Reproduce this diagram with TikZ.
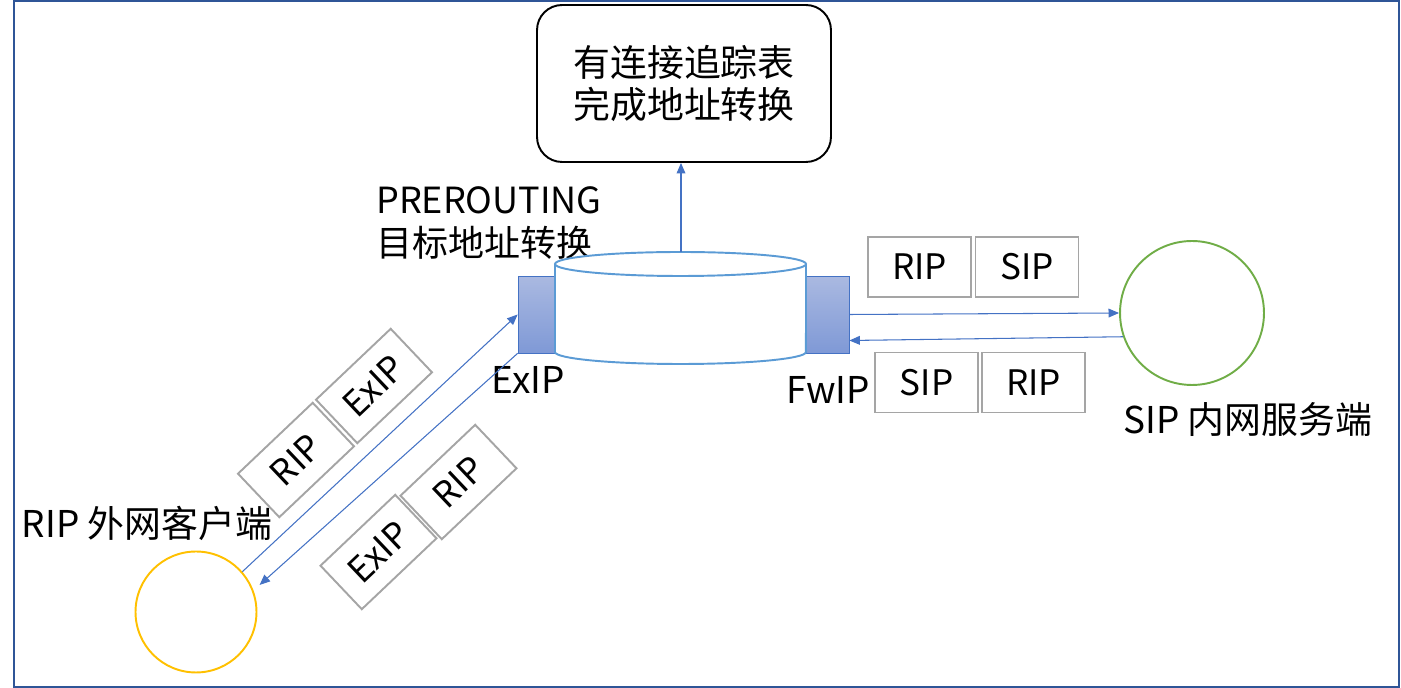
\documentclass[tikz,border=0pt]{standalone}
\usepackage{fontspec}
\setmainfont{Noto Sans CJK SC}
\usetikzlibrary{arrows.meta,calc}
\definecolor{framec}{HTML}{2F5597}
\definecolor{linkc}{HTML}{4472C4}
\definecolor{cylc}{HTML}{5B9BD5}
\definecolor{pktc}{HTML}{A5A5A5}
\definecolor{iftop}{HTML}{AAB9E1}
\definecolor{ifbot}{HTML}{7F99D6}
\definecolor{clientc}{HTML}{FFC000}
\definecolor{serverc}{HTML}{70AD47}
\begin{document}
\begin{tikzpicture}[x=0.02cm,y=-0.02cm,
    every node/.style={font=\fontsize{21}{24}\selectfont},
    pkt/.style={draw=pktc,line width=1.1pt,minimum width=2.06cm,minimum height=1.2cm,inner sep=0pt,font=\fontsize{20}{24}\selectfont},
    iface/.style={draw=linkc,top color=iftop,bottom color=ifbot,inner sep=0pt,minimum height=1.54cm},
    host/.style={circle,line width=1.1pt,inner sep=0pt},
    link/.style={draw=linkc,line width=0.6pt,-{Triangle[length=6pt,width=5pt]}},
    cyl/.style={draw=cylc,line width=1.1pt}]
    \useasboundingbox (0,0) rectangle (1401,688);
    \draw[framec,line width=1.3pt] (14,1) rectangle (1399,687);

    \node[draw,line width=1.1pt,rounded corners=0.5cm,minimum width=5.88cm,minimum height=3.14cm,align=center] (table) at (684,83.5) {有连接追踪表\\完成地址转换};
    \node[align=left,anchor=west,font=\fontsize{20.5}{24}\selectfont] (prer) at (370,223) {PREROUTING\\目标地址转换};

    \node[iface,minimum width=0.74cm] (exif) at (536.5,314.5) {};
    \node[iface,minimum width=0.86cm] (fwif) at (827.5,314.5) {};
    \draw[cyl,fill=white] (555,264) -- (555,352) arc[start angle=180,end angle=360,x radius=2.51cm,y radius=0.24cm] -- (806,264);
    \draw[cyl,fill=white] (680.5,264) ellipse[x radius=2.51cm,y radius=0.24cm];
    \coordinate (cyltop) at (681,252);
    \node (exlbl) at (528,380) {ExIP};
    \node (fwlbl) at (828,390) {FwIP};

    \node[host,draw=clientc,minimum size=2.42cm] (client) at (196,612) {};
    \node[host,draw=serverc,minimum size=2.88cm] (server) at (1192,313) {};
    \node (clientlbl) at (147,523) {RIP 外网客户端};
    \node (serverlbl) at (1248,420) {SIP 内网服务端};

    \node[pkt] (p1) at (919.5,267) {RIP};
    \node[pkt] (p2) at (1027,267) {SIP};
    \node[pkt] (p3) at (926.5,382.5) {SIP};
    \node[pkt] (p4) at (1033.5,382.5) {RIP};
    \node[pkt,rotate=43.5] (p5) at (296,460) {RIP};
    \node[pkt,rotate=43.5] (p6) at (374,386) {ExIP};
    \node[pkt,rotate=43.5] (p7) at (378.5,552) {ExIP};
    \node[pkt,rotate=43.5] (p8) at (458.5,482) {RIP};

    \draw[link] (cyltop) -- (cyltop |- table.south);
    \draw[link] (client.41.5) -- (exif.west);
    \draw[link] (exif.south west) -- ($(client.23)+(7,-3)$);
    \draw[link] (fwif.east) -- (server.west);
    \draw[link] (server.199) -- ($(fwif.east)+(0,26)$);
\end{tikzpicture}
\end{document}
